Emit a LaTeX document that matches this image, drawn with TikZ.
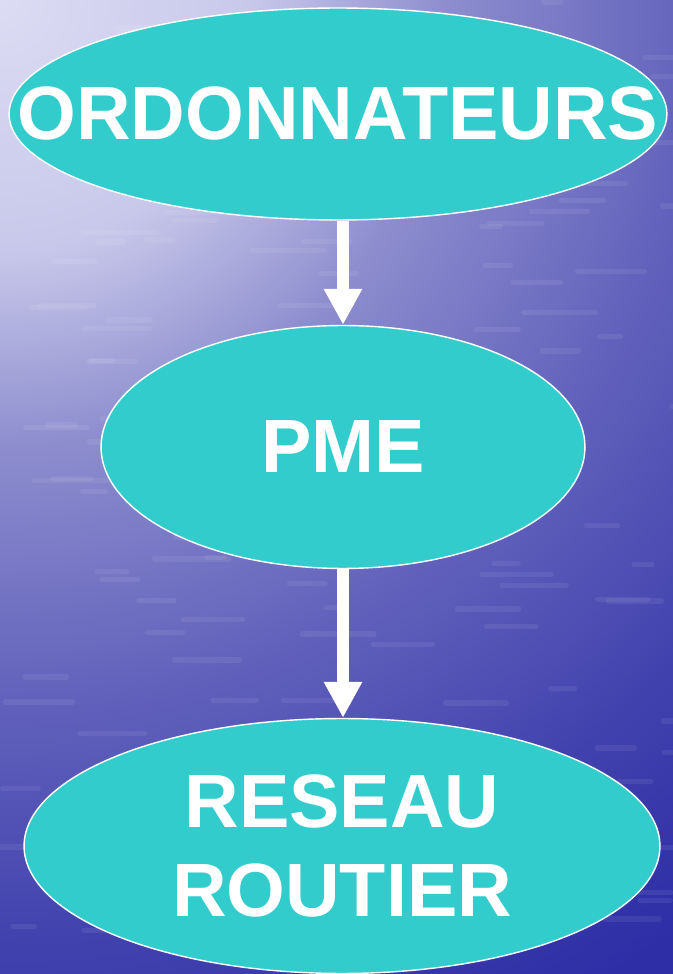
\documentclass[tikz,border=0pt]{standalone}
\usepackage{fontspec}
\setmainfont{Liberation Sans}
\usepackage{xcolor}
\usetikzlibrary{arrows.meta, positioning, calc, shapes}

\definecolor{bubble}{HTML}{33CCCC}
\definecolor{sealight}{HTML}{DCDCF4}
\definecolor{seamid}{HTML}{8C8CCE}
\definecolor{seadark}{HTML}{2E2EA6}

\pgfdeclareradialshading{sea}{\pgfpointorigin}{%
    color(0bp)=(sealight); color(5bp)=(sealight!75!seamid);
    color(9bp)=(seamid); color(14bp)=(seamid!55!seadark);
    color(19bp)=(seadark!80!seamid); color(23bp)=(seadark); color(50bp)=(seadark)}

\begin{document}
\begin{tikzpicture}[
    x=0.02cm, y=0.02cm,
    bubble/.style={ellipse, draw=white, line width=0.8pt, fill=bubble, inner sep=0pt},
    txt/.style={text=white, font=\fontsize{43}{51}\selectfont\bfseries, align=center, inner sep=0pt},
    arrow/.style={-{Triangle[length=0.72cm, width=0.72cm]}, line width=0.24cm, white},
    streak/.style={white, opacity=0.07, line width=3pt, line cap=round}
]

    % ============================================================
    % BACKGROUND
    % ============================================================
    \useasboundingbox (0,0) rectangle (673,974);
    \fill[seadark] (0,0) rectangle (673,974);
    \begin{scope}
        \clip (0,0) rectangle (673,974);
        \shade[shading=sea] (0,974) circle (1250);
        % water ripples
        \pgfmathsetseed{7}
        \foreach \i in {1,...,160} {
            \pgfmathsetmacro{\sx}{rnd*673}
            \pgfmathsetmacro{\sy}{rnd*974}
            \pgfmathsetmacro{\sl}{15+rnd*60}
            \draw[streak] (\sx,\sy) -- ++(\sl,0);
        }
    \end{scope}

    % ============================================================
    % NODES
    % ============================================================
    \node[bubble, minimum width=13.16cm, minimum height=4.24cm,
          label={[txt]center:ORDONNATEURS}] (ordo) at (338,860) {};
    \node[bubble, minimum width=9.68cm, minimum height=4.86cm,
          label={[txt]center:PME}] (pme) at (343,527) {};
    \node[bubble, minimum width=12.72cm, minimum height=5.1cm,
          label={[txt]center:RESEAU\\ROUTIER}] (reseau) at (342,128) {};

    % Connections
    \draw[arrow] (pme.north |- ordo.south) -- (pme.north);
    \draw[arrow] (pme.south) -- (pme.south |- reseau.north);

\end{tikzpicture}
\end{document}
